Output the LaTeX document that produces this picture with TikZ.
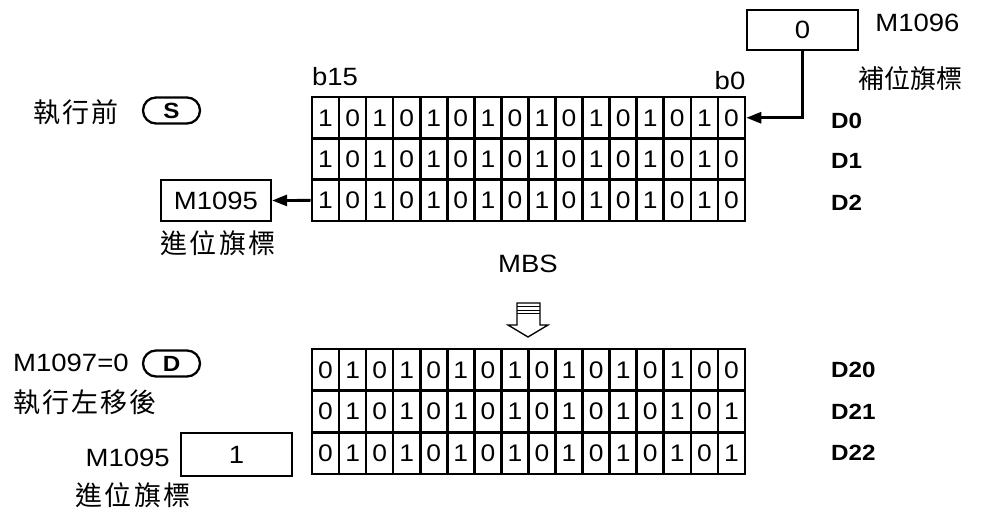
\documentclass[tikz,border=0pt]{standalone}
\usepackage{fontspec}
\setmainfont[FakeStretch=1.1]{Liberation Sans}
\newfontfamily\cjk{Noto Sans CJK TC}
\newfontfamily\cjkwide[LetterSpace=8]{Noto Sans CJK TC}
\usetikzlibrary{arrows.meta}
\tikzset{
  cell/.style={draw, line width=2.6pt, minimum width=27.06pt, minimum height=41.3pt, inner sep=0pt, font=\fontsize{24}{28}\selectfont},
  cellb/.style={cell, minimum height=41.7pt},
  flagbox/.style={draw, line width=2.3pt, inner sep=0pt, font=\fontsize{25}{28}\selectfont},
  txt/.style={inner sep=0pt, font=\fontsize{25}{28}\selectfont},
  cjktxt/.style={inner sep=0pt, font=\fontsize{26}{30}\selectfont\cjk},
  cjkwidetxt/.style={inner sep=0pt, font=\fontsize{27}{30}\selectfont\cjkwide},
  dlbl/.style={inner sep=0pt, anchor=west, font=\fontsize{22}{24}\selectfont\bfseries},
  pill/.style={draw, line width=2.3pt, rounded corners=13pt, minimum width=57pt, minimum height=26pt, inner sep=0pt, font=\fontsize{22}{24}\selectfont\bfseries},
  conn/.style={line width=2.8pt, -{Triangle[length=15pt,width=11pt]}},
}
\begin{document}
\begin{tikzpicture}[x=1pt,y=-1pt]
\useasboundingbox (0,0) rectangle (986,518);
% top grid
\foreach \r/\yy/\bits in {0/117.75/{1,0,1,0,1,0,1,0,1,0,1,0,1,0,1,0},1/159.05/{1,0,1,0,1,0,1,0,1,0,1,0,1,0,1,0},2/200.35/{1,0,1,0,1,0,1,0,1,0,1,0,1,0,1,0}}{
  \foreach \b [count=\c from 0] in \bits {
    \node[cell] (t\r-\c) at ({312+13.53+27.06*\c},\yy) {\b};
  }
}
% bottom grid
\foreach \r/\yy/\bits in {0/369.85/{0,1,0,1,0,1,0,1,0,1,0,1,0,1,0,0},1/411.55/{0,1,0,1,0,1,0,1,0,1,0,1,0,1,0,1},2/453.25/{0,1,0,1,0,1,0,1,0,1,0,1,0,1,0,1}}{
  \foreach \b [count=\c from 0] in \bits {
    \node[cellb] (b\r-\c) at ({312+13.53+27.06*\c},\yy) {\b};
  }
}
% bit labels
\node[txt] (b15) at (335,77) {b15};
\node[txt] (b0) at (730,81) {b0};
% D labels
\node[dlbl] (d0) at (831,120.5) {D0};
\node[dlbl] (d1) at (831,161) {D1};
\node[dlbl] (d2) at (831,203) {D2};
\node[dlbl] (d20) at (831,370) {D20};
\node[dlbl] (d21) at (831,412) {D21};
\node[dlbl] (d22) at (831,453) {D22};
% M1096
\node[flagbox, minimum width=111pt, minimum height=40pt] (m1096) at (802.5,30) {0};
\node[txt] (m1096t) at (917.5,23) {M1096};
\node[cjktxt] (buwei) at (910,79) {補位旗標};
\draw[conn] (m1096.south) |- (t0-15.east);
% left top
\node[cjkwidetxt, anchor=west] (before) at (33,112) {執行前};
\node[pill] (spill) at (171.5,110.5) {S};
\node[flagbox, minimum width=110pt, minimum height=41pt] (m1095a) at (216,200.5) {M1095};
\node[cjkwidetxt] (jinwei1) at (218,243) {進位旗標};
\draw[conn] (t2-0.west) -- (m1095a.east);
% MBS
\node[txt] (mbs) at (528,264) {MBS};
\draw[line width=1.3pt, fill=white] (517,325) -- (517,303) -- (540,303) -- (540,325) -- (548,325) -- (528,337) -- (508,325) -- cycle;
\draw[line width=1.3pt] (517,306.5) -- (540,306.5);
\draw[line width=1.3pt] (517,310.5) -- (540,310.5);
\draw[line width=1.3pt] (517,313.5) -- (540,313.5);
% left bottom
\node[txt, anchor=west] (m1097) at (13,363) {M1097=0};
\node[pill] (dpill) at (171.5,363.5) {D};
\node[cjkwidetxt, anchor=west] (after) at (13,402) {執行左移後};
\node[txt, anchor=east] (m1095b) at (170,458) {M1095};
\node[flagbox, minimum width=111pt, minimum height=43pt] (m1095box) at (236.5,454.5) {1};
\node[cjkwidetxt] (jinwei2) at (133,495) {進位旗標};
\end{tikzpicture}
\end{document}
